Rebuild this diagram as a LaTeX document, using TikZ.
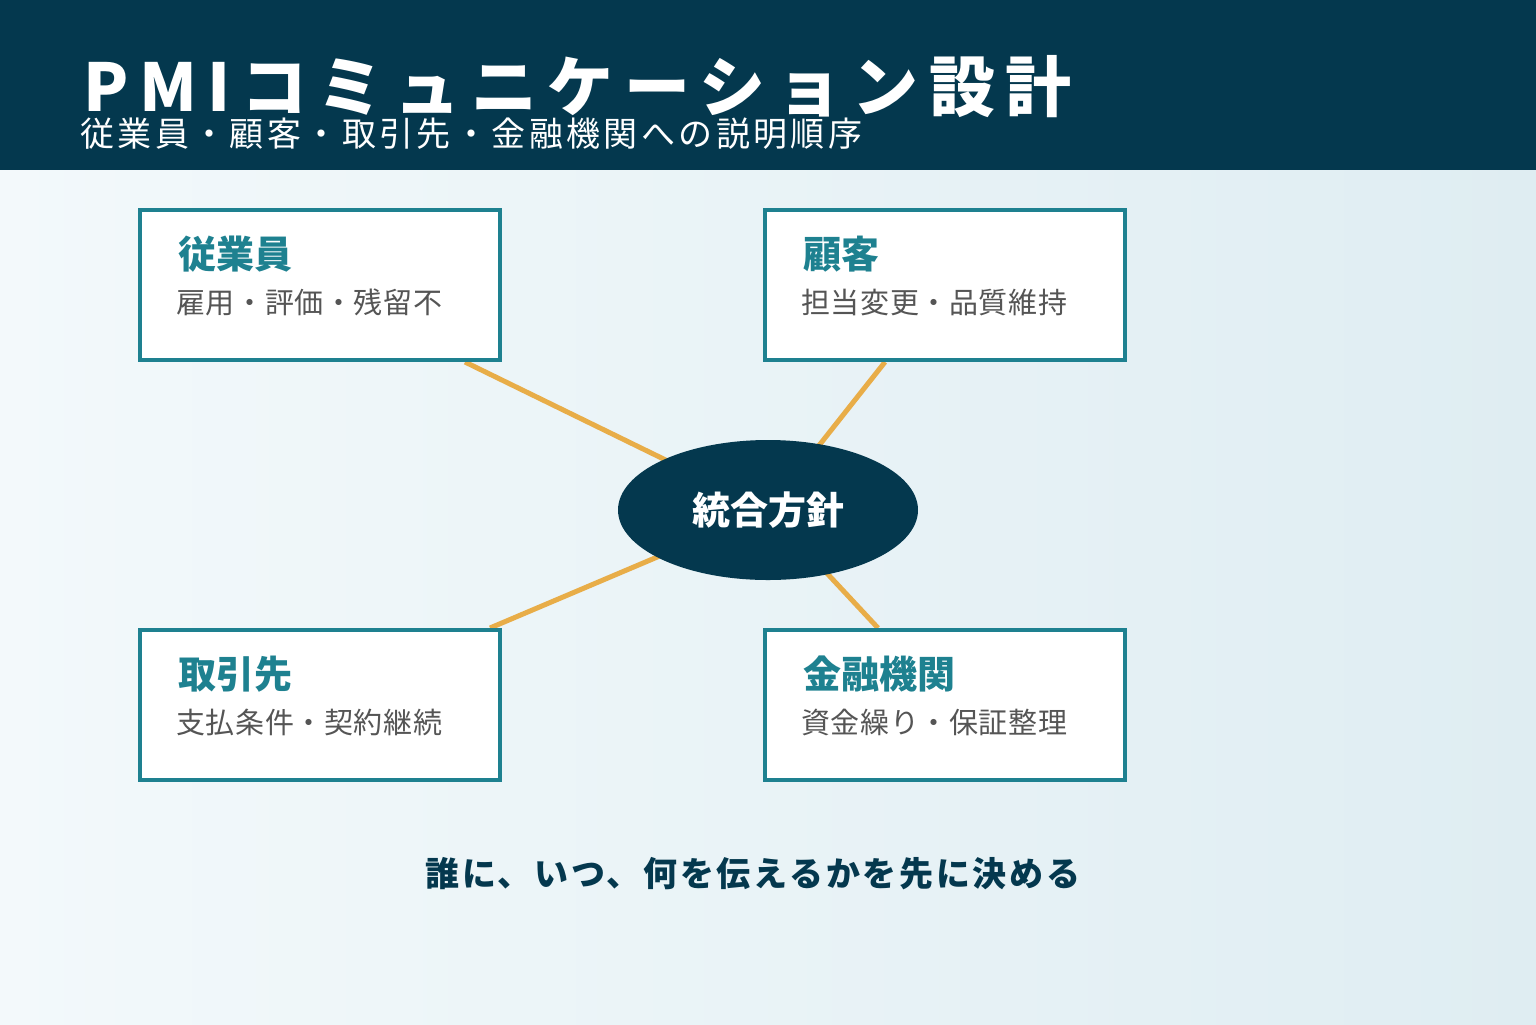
\documentclass[tikz,border=0pt]{standalone}
\usepackage{fontspec}
\setmainfont{Noto Sans CJK JP}
\usetikzlibrary{shapes.geometric}
\definecolor{navy}{HTML}{04384E}
\definecolor{teal}{HTML}{1E8190}
\definecolor{org}{HTML}{E8AD48}
\definecolor{gtxt}{HTML}{555555}
\definecolor{bgA}{HTML}{F3F9FB}
\definecolor{bgB}{HTML}{DFEDF2}
\begin{document}
\begin{tikzpicture}[x=0.5pt,y=-0.5pt,
  card/.style={draw=teal,line width=1.6pt,fill=white,minimum width=180pt,minimum height=75pt,inner sep=0pt},
  ttl/.style={anchor=base west,inner sep=0pt,text=teal,font=\bfseries\fontsize{19}{21}\selectfont},
  sub/.style={anchor=base west,inner sep=0pt,text=gtxt,font=\fontsize{14.5}{16}\selectfont\addfontfeatures{LetterSpace=2}},
  link/.style={draw=org,line width=2.5pt}]
\useasboundingbox (0,0) rectangle (1536,1024);
\shade[left color=bgA,right color=bgB] (0,0) rectangle (1536,1024);
\fill[navy] (0,0) rectangle (1536,170);
\node[anchor=base west,text=white,inner sep=0pt,font=\bfseries\fontsize{33}{36}\selectfont\addfontfeatures{LetterSpace=16}] (title) at (83,111) {PMIコミュニケーション設計};
\node[anchor=base west,text=white,inner sep=0pt,font=\fontsize{17}{19}\selectfont\addfontfeatures{LetterSpace=10}] (subt) at (80,146) {従業員・顧客・取引先・金融機関への説明順序};
\node[card] (b1) at (320,285) {};
\node[card] (b2) at (945,285) {};
\node[card] (b3) at (320,705) {};
\node[card] (b4) at (945,705) {};
\coordinate (p1) at (465,362);
\coordinate (p2) at (885,362);
\coordinate (p3) at (490,628);
\coordinate (p4) at (878,628);
\coordinate (cc) at (768,510);
\draw[link] (p1) -- (cc);
\draw[link] (p2) -- (cc);
\draw[link] (p3) -- (cc);
\draw[link] (p4) -- (cc);
\node[ellipse,fill=navy,minimum width=150pt,minimum height=70pt,inner sep=0pt,text=white,font=\bfseries\fontsize{19}{21}\selectfont] (c) at (cc) {統合方針};
\node[card] at (320,285) {};
\node[card] at (945,285) {};
\node[card] at (320,705) {};
\node[card] at (945,705) {};
\node[ttl] (t1) at (178,268) {従業員};
\node[sub] (s1) at (176,313) {雇用・評価・残留不};
\node[ttl] (t2) at (803,268) {顧客};
\node[sub] (s2) at (801,313) {担当変更・品質維持};
\node[ttl] (t3) at (178,688) {取引先};
\node[sub] (s3) at (176,733) {支払条件・契約継続};
\node[ttl] (t4) at (803,688) {金融機関};
\node[sub] (s4) at (801,733) {資金繰り・保証整理};
\node[anchor=base,text=navy,font=\bfseries\fontsize{17}{19}\selectfont\addfontfeatures{LetterSpace=8}] (ft) at (753,886) {誰に、いつ、何を伝えるかを先に決める};
\end{tikzpicture}
\end{document}
